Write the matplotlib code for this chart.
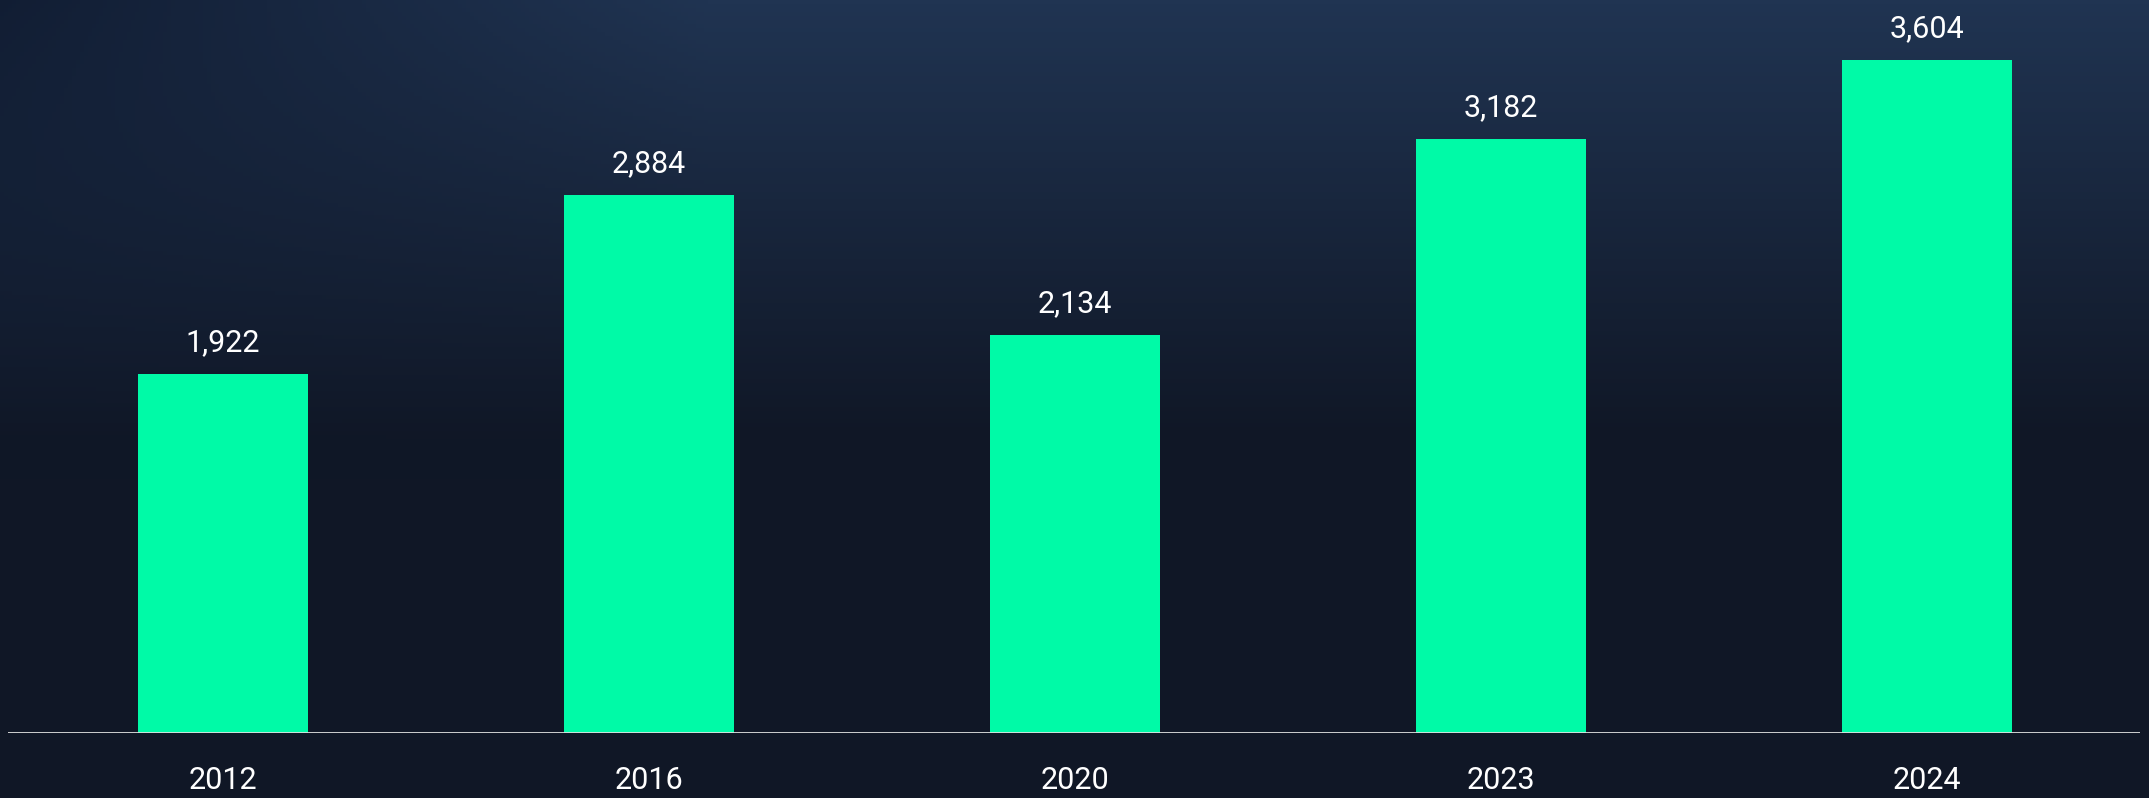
import numpy as np
import matplotlib.pyplot as plt

# Data
years = ['2012', '2016', '2020', '2023', '2024']
values = [1922, 2884, 2134, 3182, 3604]

bar_color = '#00FAA7'
text_color = 'white'

plt.rcParams['font.family'] = ['Roboto', 'DejaVu Sans']

fig = plt.figure(figsize=(21.49, 7.98), dpi=100)

# background: dark navy, lighter towards the top right
bg = fig.add_axes([0, 0, 1, 1], zorder=0)
h, w = 200, 540
yy = np.linspace(0, 1, h)[:, None]
xx = np.linspace(0, 1, w)[None, :]
top = np.array([0x20, 0x34, 0x52]) / 255
dark = np.array([0x0e, 0x18, 0x2c]) / 255
bottom = np.array([0x10, 0x17, 0x26]) / 255
t_vert = np.clip(yy / 0.55, 0, 1)
t_left = np.clip((0.33 - xx) / 0.33, 0, 1) * np.clip(1 - yy / 0.6, 0, 1)
img = top * (1 - t_vert[..., None]) + bottom * t_vert[..., None]
img = img * (1 - 0.8 * t_left[..., None]) + dark * 0.8 * t_left[..., None]
bg.imshow(img, aspect='auto', extent=[0, 1, 0, 1], origin='upper')
bg.axis('off')

ax = fig.add_axes([8 / 2149, 65 / 798, 2132 / 2149, 733 / 798], zorder=1)
ax.patch.set_alpha(0)

x = np.arange(len(years))
bars = ax.bar(x, values, width=0.4, color=bar_color)

for xi, v in zip(x, values):
    ax.text(xi, v + 90, f'{v:,}', ha='center', va='bottom',
            color=text_color, fontsize=22)

ax.set_xlim(-0.505, 4.5)
ax.set_ylim(0, 3926)
ax.axhline(0, color='#e0e0e0', lw=2)

ax.set_xticks(x)
ax.set_xticklabels(years, color=text_color, fontsize=22)
ax.tick_params(axis='x', length=0, pad=24)
ax.set_yticks([])
for s in ax.spines.values():
    s.set_visible(False)

fig.savefig('out.png', dpi=100)
